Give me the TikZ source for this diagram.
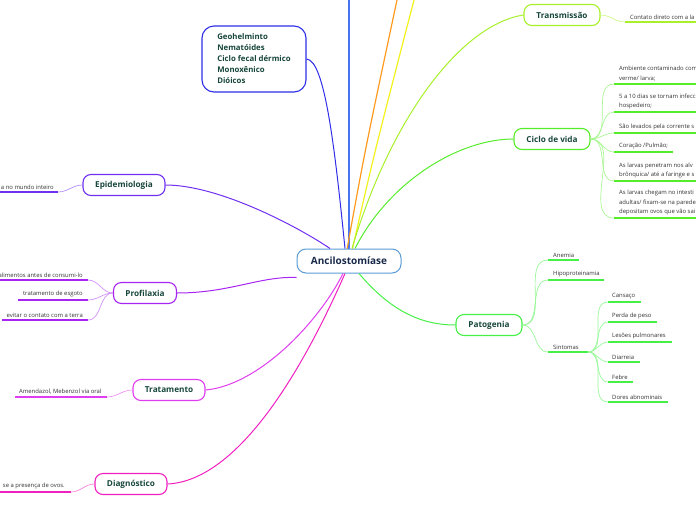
\documentclass[tikz,border=0pt]{standalone}
\usepackage{fontspec}
\setmainfont{Open Sans}
\definecolor{txt}{HTML}{17463A}
\definecolor{ctxt}{HTML}{1A2A4A}
\definecolor{cbord}{HTML}{5B9BD5}
\definecolor{geo}{HTML}{2E2EE8}
\definecolor{blu}{HTML}{4A74F0}
\definecolor{ora}{HTML}{FF9A1F}
\definecolor{yel}{HTML}{F2F21A}
\definecolor{tra}{HTML}{A8F02A}
\definecolor{cic}{HTML}{55EC2A}
\definecolor{pat}{HTML}{46F046}
\definecolor{epi}{HTML}{7030F0}
\definecolor{pro}{HTML}{A824F0}
\definecolor{trt}{HTML}{E03CF0}
\definecolor{dia}{HTML}{F020C0}
\begin{document}
\begin{tikzpicture}[x=1pt,y=-1pt,
  mainbox/.style={draw, rounded corners=8pt, line width=1.1pt, fill=white,
    font=\fontsize{8.2}{10}\selectfont\bfseries, text=txt, minimum height=21pt, inner sep=0pt},
  leaf/.style={font=\fontsize{5.9}{9.8}\selectfont, text=black!80, inner sep=0pt, align=left},
  ul/.style={line width=2pt},
  con/.style={line width=1pt},
  sub/.style={line width=0.7pt}]
\useasboundingbox (0,0) rectangle (696,520);
\clip (0,0) rectangle (696,520);

% ---- connectors from centre (drawn first)
\coordinate (c0) at (349,260);
\coordinate (topb) at (349,0);
\coordinate (topo) at (397,0);
\coordinate (topy) at (414,0);
\draw[blu,line width=1.3pt] (c0) -- (topb);
\draw[ora,line width=1.2pt] (346,255) .. controls (365,150) .. (topo);
\draw[yel,line width=1.2pt] (351,255) .. controls (375,150) .. (topy);

% ---- central node
\node[draw=cbord, line width=1pt, rounded corners=9pt, fill=white, minimum width=104pt,
  minimum height=24pt, inner sep=0pt, font=\fontsize{10}{12}\selectfont\bfseries, text=ctxt]
  (center) at (349,261) {Ancilostomíase};

% ---- main nodes
\node[mainbox, draw=geo, rounded corners=12pt, minimum width=104pt, minimum height=66pt,
  align=left, font=\fontsize{7.8}{11}\selectfont\bfseries] (geo) at (254,59)
  {Geohelminto\\Nematóides\\Ciclo fecal dérmico\\Monoxênico\\Dióicos};
\node[mainbox, draw=epi, minimum width=82pt] (epi) at (124,185) {Epidemiologia};
\node[mainbox, draw=pro, minimum width=63pt] (pro) at (145,293) {Profilaxia};
\node[mainbox, draw=trt, minimum width=72pt] (trt) at (169,390) {Tratamento};
\node[mainbox, draw=dia, minimum width=72pt] (dia) at (131,484) {Diagnóstico};
\node[mainbox, draw=tra, minimum width=76pt] (tra) at (562,15) {Transmissão};
\node[mainbox, draw=cic, minimum width=76pt] (cic) at (552,139) {Ciclo de vida};
\node[mainbox, draw=pat, minimum width=66pt] (pat) at (489,325) {Patogenia};

% main connectors
\draw[geo,con] (geo.east) .. controls (325,60) and (335,150) .. ([xshift=-4pt]center.north);
\draw[tra,con] (tra.west) .. controls (460,25) and (390,120) .. ([xshift=3pt]center.north);
\draw[cic,con] (cic.west) .. controls (460,139) and (390,180) .. ([xshift=6pt]center.north);
\draw[pat,con] (pat.west) .. controls (420,325) and (390,310) .. ([xshift=10pt]center.south);
\draw[epi,con] (epi.east) .. controls (220,185) and (300,228) .. ([xshift=-19pt]center.north);
\draw[pro,con] (pro.east) .. controls (230,293) and (260,276) .. ([yshift=-4pt]center.south west);
\draw[trt,con] (trt.east) .. controls (260,385) and (320,320) .. ([xshift=-6pt]center.south);
\draw[dia,con] (dia.east) .. controls (250,480) and (320,330) .. ([xshift=-4pt]center.south);

% ---- Transmissão leaf
\coordinate (ta) at (625,22); \coordinate (tb) at (696,22);
\draw[tra,ul] (ta) -- (tb);
\draw[tra!55,sub] (tra.east) to[out=0,in=180] (ta);
\node[leaf,anchor=south west] (t1) at (630,19.5) {Contato direto com a la};

% ---- Ciclo de vida leaves
\foreach \n/\y/\e in {1/84/696, 2/112/696, 3/133/696, 4/152/673, 5/181/696, 6/218/696}{
  \coordinate (ca\n) at (614,\y); \coordinate (cb\n) at (\e,\y);
  \draw[cic,ul] (ca\n) -- (cb\n);
  \draw[cic!50,sub] (cic.east) to[out=0,in=180] (ca\n);
}
\node[leaf,anchor=south west] (c1) at (619,81.5) {Ambiente contaminado com\\verme/ larva;};
\node[leaf,anchor=south west] (c2) at (619,109.5) {5 a 10 dias se tornam infecc\\hospedeiro;};
\node[leaf,anchor=south west] (c3) at (619,130.5) {São levados pela corrente s};
\node[leaf,anchor=south west] (c4) at (619,149.5) {Coração /Pulmão;};
\node[leaf,anchor=south west] (c5) at (619,178.5) {As larvas penetram nos alv\\brônquica/ até a faringe e s};
\node[leaf,anchor=south west] (c6) at (619,215.5) {As larvas chegam no intesti\\adultas/ fixam-se na parede\\depositam ovos que vão sai};

% ---- Patogenia leaves
\foreach \n/\y/\e in {1/260/579, 2/280/604, 3/352/588}{
  \coordinate (pa\n) at (548,\y); \coordinate (pb\n) at (\e,\y);
  \draw[pat,ul] (pa\n) -- (pb\n);
  \draw[pat!55,sub] (pat.east) to[out=0,in=180] (pa\n);
}
\node[leaf,anchor=south west] (p1) at (553,257.5) {Anemia};
\node[leaf,anchor=south west] (p2) at (553,277.5) {Hipoproteinamia};
\node[leaf,anchor=south west] (p3) at (553,349.5) {Sintomas};
\foreach \n/\y/\e/\t in {1/302/641/Cansaço, 2/322/657/Perda de peso, 3/342/672/Lesões pulmonares,
  4/362/640/Diarreia, 5/382/633/Febre, 6/402/668/Dores abnominais}{
  \coordinate (sa\n) at (608,\y); \coordinate (sb\n) at (\e,\y);
  \draw[pat,ul] (sa\n) -- (sb\n);
  \draw[pat!55,sub] (pb3) to[out=0,in=180] (sa\n);
  \node[leaf,anchor=south west] (s\n) at (612,\y-2.5) {\t};
}

% ---- Epidemiologia leaf
\coordinate (ea) at (0,192); \coordinate (eb) at (58,192);
\draw[epi,ul] (ea) -- (eb);
\draw[epi!55,sub] (epi.west) to[out=180,in=0] (eb);
\node[leaf,anchor=south east] (e1) at (54,189.5) {a no mundo inteiro};

% ---- Profilaxia leaves
\foreach \n/\y/\s in {1/280/0, 2/300/18, 3/320/2}{
  \coordinate (ra\n) at (\s,\y); \coordinate (rb\n) at (88,\y);
  \draw[pro,ul] (ra\n) -- (rb\n);
  \draw[pro!50,sub] (pro.west) to[out=180,in=0] (rb\n);
}
\node[leaf,anchor=south east] (r1) at (83,277.5) {alimentos antes de consumi-lo};
\node[leaf,anchor=south east] (r2) at (83,297.5) {tratamento de esgoto};
\node[leaf,anchor=south east] (r3) at (83,317.5) {evitar o contato com a terra};

% ---- Tratamento leaf
\coordinate (xa) at (15,397); \coordinate (xb) at (107,397);
\draw[trt,ul] (xa) -- (xb);
\draw[trt!55,sub] (trt.west) to[out=180,in=0] (xb);
\node[leaf,anchor=south west] (x1) at (19,394.5) {Amendazol, Mebenzol via oral};

% ---- Diagnóstico leaf
\coordinate (da) at (0,492); \coordinate (db) at (71,492);
\draw[dia,ul] (da) -- (db);
\draw[dia!55,sub] (dia.west) to[out=180,in=0] (db);
\node[leaf,anchor=south east] (d1) at (65,489.5) {se a presença de ovos.};
\end{tikzpicture}
\end{document}
